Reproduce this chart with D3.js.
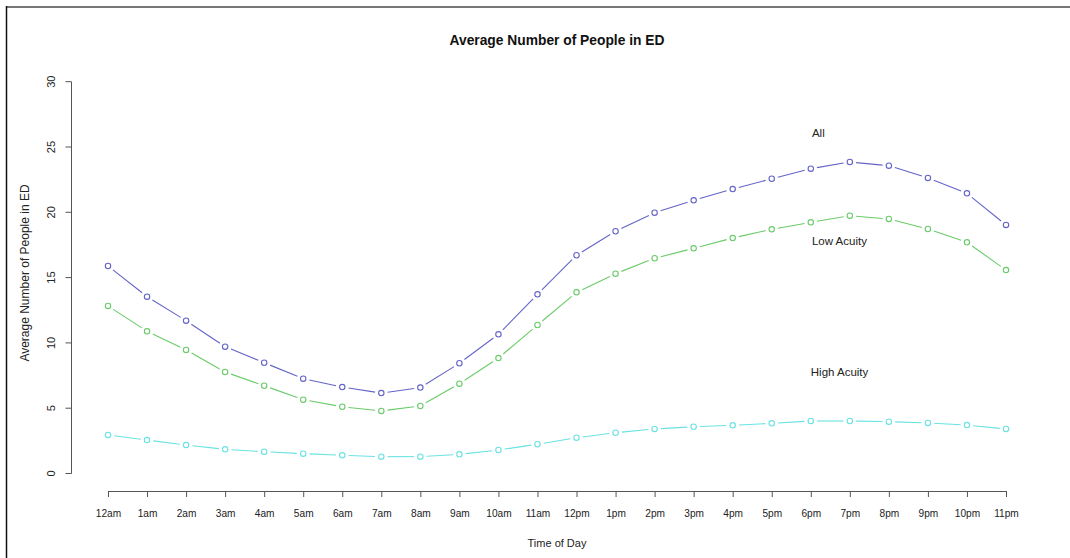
<!DOCTYPE html>
<html>
<head>
<meta charset="utf-8">
<script src="https://cdn.jsdelivr.net/npm/d3@7"></script>
<style>
  html, body { margin: 0; padding: 0; background: #fff; }
  svg { display: block; font-family: "Liberation Sans", Arial, sans-serif; }
</style>
</head>
<body>
<svg id="chart" width="1070" height="558"></svg>
<script>
// Hour-of-day categories
const hours = ["12am","1am","2am","3am","4am","5am","6am","7am","8am","9am","10am","11am",
               "12pm","1pm","2pm","3pm","4pm","5pm","6pm","7pm","8pm","9pm","10pm","11pm"];

// Average number of people in the ED by hour
const allPatients = [15.89, 13.54, 11.70, 9.71, 8.48, 7.26, 6.62, 6.16, 6.58, 8.44, 10.66, 13.72,
                     16.71, 18.55, 19.97, 20.92, 21.78, 22.57, 23.34, 23.85, 23.57, 22.63, 21.45, 19.03];
const lowAcuity   = [12.83, 10.89, 9.46, 7.77, 6.72, 5.65, 5.11, 4.79, 5.17, 6.88, 8.84, 11.37,
                     13.87, 15.30, 16.48, 17.24, 18.03, 18.70, 19.23, 19.74, 19.49, 18.72, 17.70, 15.58];
const highAcuity  = [2.95, 2.56, 2.18, 1.85, 1.67, 1.52, 1.39, 1.29, 1.29, 1.47, 1.80, 2.24,
                     2.74, 3.12, 3.41, 3.58, 3.69, 3.84, 4.02, 4.02, 3.97, 3.87, 3.71, 3.41];

const yTicks = [0, 5, 10, 15, 20, 25, 30];

const seriesNames  = ["All", "Low Acuity", "High Acuity"];
const seriesColors = ["#6464c8", "#6acb6a", "#6ae2e2"];
const seriesValues = [allPatients, lowAcuity, highAcuity];
// label anchor: hour index and value
const labelPos = [[18.03, 26.0], [18.03, 17.7], [18.0, 7.7]];

const svg = d3.select("#chart");

// outer frame
svg.append("line").attr("x1", 6).attr("x2", 1070).attr("y1", 7).attr("y2", 7)
  .attr("stroke", "#777").attr("stroke-width", 2);
svg.append("line").attr("x1", 6.5).attr("x2", 6.5).attr("y1", 6).attr("y2", 558)
  .attr("stroke", "#111").attr("stroke-width", 1.5);

const x = d3.scalePoint().domain(hours).range([108, 1006]);
const xi = d3.scaleLinear().domain([0, hours.length - 1]).range([108, 1006]);
const y = d3.scaleLinear().domain([0, 30]).range([473.5, 81.7]);

const tickFont = "11px";

// x axis
const xAxis = svg.append("g").attr("transform", "translate(0,491)")
  .call(d3.axisBottom(x).tickSize(6).tickPadding(12).tickSizeOuter(0));
xAxis.select(".domain").attr("d", `M${x(hours[0])},0.5H${x(hours[hours.length-1])}`);
xAxis.selectAll("path, line").attr("stroke", "#555");
xAxis.selectAll("text").attr("font-size", tickFont).attr("fill", "#222")
  .attr("font-family", "Liberation Sans, Arial, sans-serif")
  .attr("textLength", function () { return this.getComputedTextLength() * 0.92; })
  .attr("lengthAdjust", "spacingAndGlyphs");

// y axis
const yAxis = svg.append("g").attr("transform", "translate(71.5,0)")
  .call(d3.axisLeft(y).tickValues(yTicks).tickSize(6).tickPadding(0).tickSizeOuter(0));
yAxis.select(".domain").attr("d", `M0,${y(0)}V${y(30)}`);
yAxis.selectAll("path, line").attr("stroke", "#555");
yAxis.selectAll("text")
  .attr("font-size", tickFont).attr("fill", "#222")
  .attr("font-family", "Liberation Sans, Arial, sans-serif")
  .attr("text-anchor", "middle")
  .attr("x", null).attr("dy", null)
  .attr("transform", d => `translate(-19.5,${y(d)}) rotate(-90)`)
  .attr("y", 0)
  .attr("dominant-baseline", "middle");
yAxis.selectAll(".tick").attr("transform", null);
yAxis.selectAll(".tick line").attr("transform", d => `translate(0,${y(d)})`);

// titles
svg.append("text").attr("x", 557).attr("y", 45).attr("text-anchor", "middle")
  .attr("font-size", "13.8px").attr("font-weight", "bold").attr("fill", "#111")
  .text("Average Number of People in ED");
svg.append("text").attr("x", 557).attr("y", 547).attr("text-anchor", "middle")
  .attr("font-size", "11px").attr("fill", "#222").text("Time of Day");
svg.append("text").attr("transform", "translate(29,273) rotate(-90)").attr("text-anchor", "middle")
  .attr("font-size", "12px").attr("fill", "#222").text("Average Number of People in ED");

// series: segments with gaps around the point markers, plus open circles
const gap = 6.3;
seriesValues.forEach((vals, s) => {
  const g = svg.append("g");
  const pts = vals.map((v, i) => [x(hours[i]), y(v)]);
  for (let i = 0; i < pts.length - 1; i++) {
    const [x1, y1] = pts[i], [x2, y2] = pts[i + 1];
    const dx = x2 - x1, dy = y2 - y1, len = Math.hypot(dx, dy);
    if (len <= 2 * gap) continue;
    const ux = dx / len, uy = dy / len;
    g.append("line")
      .attr("x1", x1 + ux * gap).attr("y1", y1 + uy * gap)
      .attr("x2", x2 - ux * gap).attr("y2", y2 - uy * gap)
      .attr("stroke", seriesColors[s]).attr("stroke-width", 1.1);
  }
  g.selectAll("circle").data(vals).join("circle")
    .attr("cx", (d, i) => x(hours[i])).attr("cy", d => y(d))
    .attr("r", 2.7).attr("fill", "none")
    .attr("stroke", seriesColors[s]).attr("stroke-width", 1.1);

  svg.append("text")
    .attr("x", xi(labelPos[s][0])).attr("y", y(labelPos[s][1]))
    .attr("dominant-baseline", "middle")
    .attr("font-size", "11.5px").attr("fill", "#222")
    .text(seriesNames[s]);
});
</script>
</body>
</html>
